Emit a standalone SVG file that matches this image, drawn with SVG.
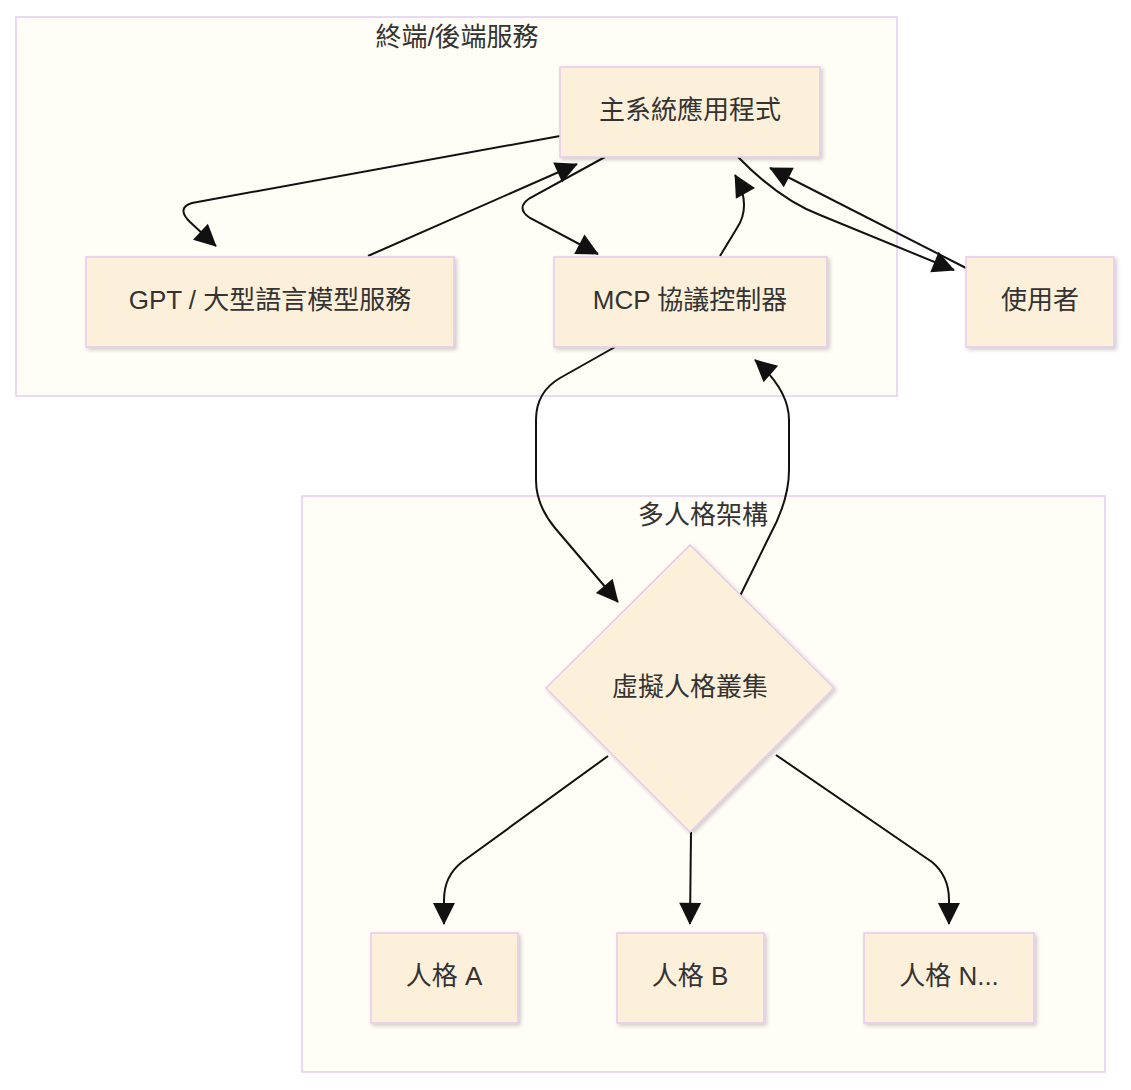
<svg xmlns="http://www.w3.org/2000/svg" width="1131" height="1090" viewBox="0 0 1131 1090">
<style>
.cl{fill:#fffdf5;stroke:#e3cdf0;stroke-width:1.5}
.nd{fill:#fdf0da;stroke:#e6c9ee;stroke-width:1.5;filter:url(#sh)}
.t{font-family:"Liberation Sans","Noto Sans CJK TC",sans-serif;font-size:26px;fill:#333;text-anchor:middle;dominant-baseline:central}
.e{fill:none;stroke:#111;stroke-width:2;marker-end:url(#ar)}
</style>
<defs>
<filter id="sh" x="-10%" y="-10%" width="130%" height="130%"><feDropShadow dx="2" dy="2" stdDeviation="2" flood-color="#000" flood-opacity="0.2"/></filter>
<marker id="ar" viewBox="0 0 10 10" refX="9" refY="5" markerWidth="10" markerHeight="10" markerUnits="userSpaceOnUse" orient="auto" style="overflow:visible"><path d="M0,0 L10,5 L0,10 z" fill="#111" transform="scale(2.2) translate(-5.5,-2.7)"/></marker>
</defs>
<g id="cluster-backend"><rect class="cl" x="16" y="17" width="881" height="379"/><text class="t" x="457" y="37">終端/後端服務</text></g>
<g id="cluster-persona"><rect class="cl" x="302" y="496" width="803" height="576"/><text class="t" x="703" y="515">多人格架構</text></g>
<g id="connectors">
<path class="e" d="M560,136 L192,203 Q176,208 190,222 L216,246"/>
<path class="e" d="M368,256 L577,164"/>
<path class="e" d="M605,157 L530,198 Q515,208 530,218 L598,254"/>
<path class="e" d="M720,256 L737,228 Q752,205 735,175"/>
<path class="e" d="M738,157 Q780,200 820,215 L954,270"/>
<path class="e" d="M966,268 L770,168"/>
<path class="e" d="M615,347 L560,378 Q536,392 536,420 L536,480 Q536,505 555,528 L618,602"/>
<path class="e" d="M740,596 L770,535 Q789,500 789,470 L789,420 Q789,390 755,360"/>
<path class="e" d="M608,756 L462,862 Q444,876 444,900 L444,924"/>
<path class="e" d="M691,832 L690,924"/>
<path class="e" d="M776,755 L932,862 Q949,876 949,900 L949,924"/>
</g>
<g id="n-main"><rect class="nd" x="560" y="67" width="260" height="90"/><text class="t" x="690" y="110">主系統應用程式</text></g>
<g id="n-gpt"><rect class="nd" x="86" y="257" width="368" height="90"/><text class="t" x="270" y="300">GPT / 大型語言模型服務</text></g>
<g id="n-mcp"><rect class="nd" x="554" y="257" width="273" height="90"/><text class="t" x="690" y="300">MCP 協議控制器</text></g>
<g id="n-user"><rect class="nd" x="966" y="257" width="148" height="90"/><text class="t" x="1040" y="300">使用者</text></g>
<g id="n-cluster"><polygon class="nd" points="690,545 834,688 690,832 546,688"/><text class="t" x="690" y="687">虛擬人格叢集</text></g>
<g id="n-a"><rect class="nd" x="371" y="933" width="147" height="90"/><text class="t" x="444" y="976">人格 A</text></g>
<g id="n-b"><rect class="nd" x="617" y="933" width="147" height="90"/><text class="t" x="690" y="976">人格 B</text></g>
<g id="n-n"><rect class="nd" x="864" y="933" width="170" height="90"/><text class="t" x="949" y="976">人格 N...</text></g>
</svg>
